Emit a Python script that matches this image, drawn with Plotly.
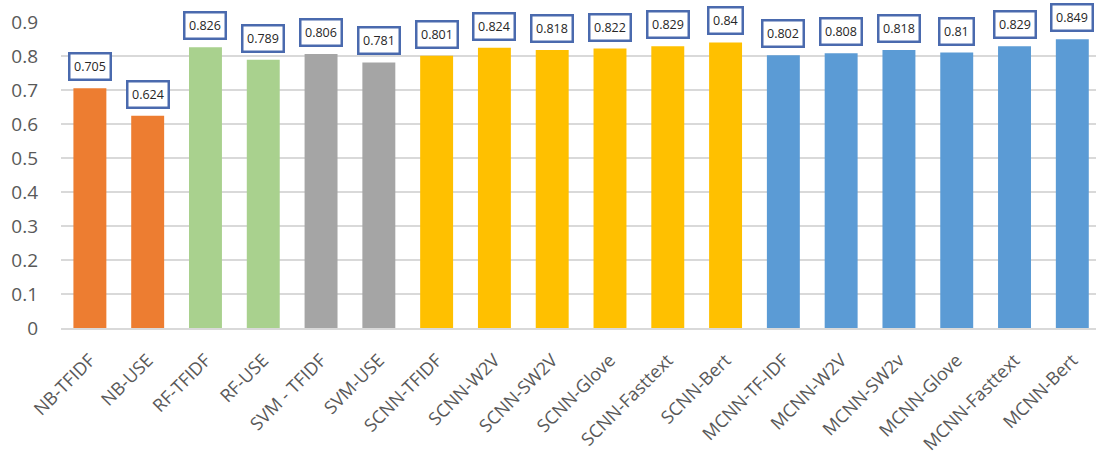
import plotly.graph_objects as go

# Model / feature combinations and their scores
models = ["NB-TFIDF", "NB-USE", "RF-TFIDF", "RF-USE", "SVM - TFIDF", "SVM-USE",
          "SCNN-TFIDF", "SCNN-W2V", "SCNN-SW2V", "SCNN-Glove", "SCNN-Fasttext", "SCNN-Bert",
          "MCNN-TF-IDF", "MCNN-W2V", "MCNN-SW2v", "MCNN-Glove", "MCNN-Fasttext", "MCNN-Bert"]
scores = [0.705, 0.624, 0.826, 0.789, 0.806, 0.781,
          0.801, 0.824, 0.818, 0.822, 0.829, 0.84,
          0.802, 0.808, 0.818, 0.81, 0.829, 0.849]
groups = ["NB", "NB", "RF", "RF", "SVM", "SVM",
          "SCNN", "SCNN", "SCNN", "SCNN", "SCNN", "SCNN",
          "MCNN", "MCNN", "MCNN", "MCNN", "MCNN", "MCNN"]
y_ticks = [0, 0.1, 0.2, 0.3, 0.4, 0.5, 0.6, 0.7, 0.8, 0.9]

group_colors = {"NB": "#ED7D31", "RF": "#A9D18E", "SVM": "#A5A5A5",
                "SCNN": "#FFC000", "MCNN": "#5B9BD5"}

FONT = "Open Sans, sans-serif"
TEXT_GREY = "#595959"

fig = go.Figure()
fig.add_trace(go.Bar(
    x=list(range(len(models))),
    y=scores,
    marker=dict(color=[group_colors[g] for g in groups], line=dict(width=0)),
    width=0.57,
    showlegend=False,
    hoverinfo="skip",
))

# Boxed value labels above each bar
for i, v in enumerate(scores):
    fig.add_annotation(
        x=i, y=v, xref="x", yref="y",
        text=f"{v:g}",
        showarrow=False,
        yanchor="bottom", yshift=7,
        font=dict(family=FONT, size=12.5, color="#262626"),
        bgcolor="white",
        bordercolor="#4A6AAE",
        borderwidth=2.5,
        borderpad=3.5,
    )

fig.update_layout(
    width=1096, height=460,
    margin=dict(l=61, r=0, t=22, b=132),
    paper_bgcolor="white", plot_bgcolor="white",
    bargap=0.43,
    font=dict(family=FONT, color=TEXT_GREY),
)
fig.update_xaxes(
    range=[-0.5, 17.41],
    tickmode="array",
    tickvals=list(range(len(models))),
    ticktext=models,
    tickangle=-45,
    tickfont=dict(family=FONT, size=18, color=TEXT_GREY),
    showgrid=False,
    showline=True, linecolor="#D9D9D9", linewidth=1.5,
    ticks="",
    ticklabelstandoff=13,
)
fig.update_yaxes(
    range=[0, 0.9],
    tickmode="array",
    tickvals=y_ticks,
    ticktext=[f"{t:g}" for t in y_ticks],
    tickfont=dict(family=FONT, size=19, color=TEXT_GREY),
    showgrid=True, gridcolor="#D9D9D9", gridwidth=1.5,
    zeroline=False,
    ticks="",
    ticklabelstandoff=22,
)

fig.write_html("out.html")
